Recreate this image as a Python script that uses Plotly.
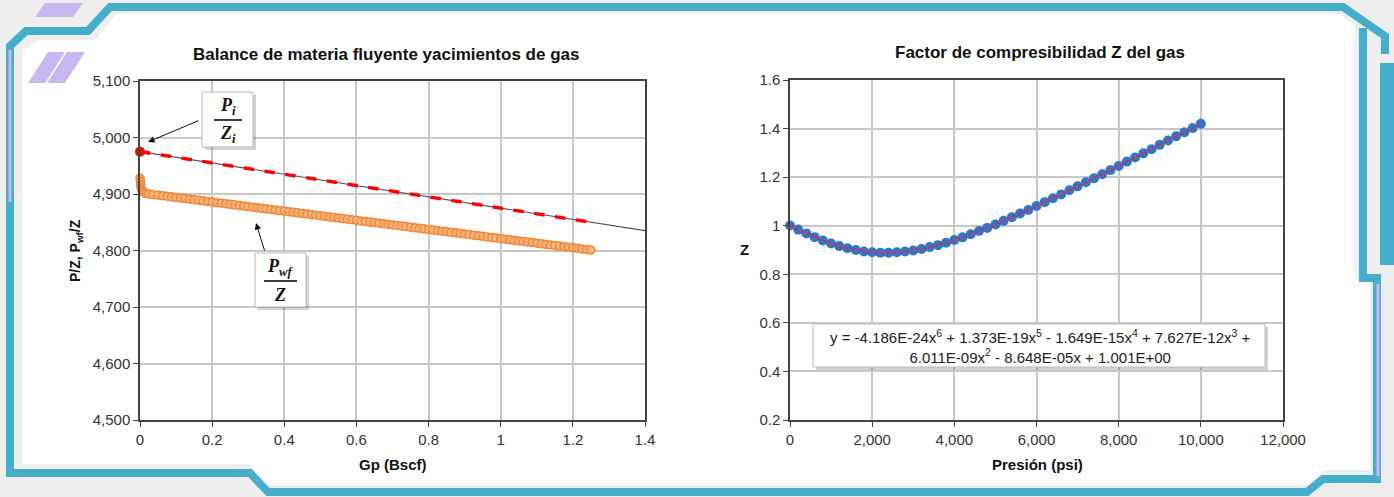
import numpy as np
import plotly.graph_objects as go

W, H = 1394, 497

# ---------------- Flowing material balance (left panel) ----------------
gp_pz = [0.0, 1.25]
pz = [4975, 4850]
gp_trend = [0.0, 1.4]
pz_trend = [4975, 4835]
gp_init = [0.0]
pz_init = [4975]

gp_pwf = [0.0, 0.001, 0.002, 0.003, 0.005, 0.008, 0.012, 0.018, 0.025, 0.035,
          0.0500, 0.0625, 0.0750, 0.0875, 0.1000, 0.1125, 0.1250, 0.1375, 0.1500, 0.1625,
          0.1750, 0.1875, 0.2000, 0.2125, 0.2250, 0.2375, 0.2500, 0.2625, 0.2750, 0.2875,
          0.3000, 0.3125, 0.3250, 0.3375, 0.3500, 0.3625, 0.3750, 0.3875, 0.4000, 0.4125,
          0.4250, 0.4375, 0.4500, 0.4625, 0.4750, 0.4875, 0.5000, 0.5125, 0.5250, 0.5375,
          0.5500, 0.5625, 0.5750, 0.5875, 0.6000, 0.6125, 0.6250, 0.6375, 0.6500, 0.6625,
          0.6750, 0.6875, 0.7000, 0.7125, 0.7250, 0.7375, 0.7500, 0.7625, 0.7750, 0.7875,
          0.8000, 0.8125, 0.8250, 0.8375, 0.8500, 0.8625, 0.8750, 0.8875, 0.9000, 0.9125,
          0.9250, 0.9375, 0.9500, 0.9625, 0.9750, 0.9875, 1.0000, 1.0125, 1.0250, 1.0375,
          1.0500, 1.0625, 1.0750, 1.0875, 1.1000, 1.1125, 1.1250, 1.1375, 1.1500, 1.1625,
          1.1750, 1.1875, 1.2000, 1.2125, 1.2250, 1.2375, 1.2500]
pwf_z = [4928, 4922, 4916, 4911, 4907, 4904, 4902, 4901, 4900, 4899,
         4898.0, 4897.0, 4896.0, 4895.0, 4893.9, 4892.9, 4891.9, 4890.9, 4889.9, 4888.9,
         4887.9, 4886.9, 4885.9, 4884.8, 4883.8, 4882.8, 4881.8, 4880.8, 4879.8, 4878.8,
         4877.8, 4876.7, 4875.7, 4874.7, 4873.7, 4872.7, 4871.7, 4870.7, 4869.7, 4868.6,
         4867.6, 4866.6, 4865.6, 4864.6, 4863.6, 4862.6, 4861.6, 4860.5, 4859.5, 4858.5,
         4857.5, 4856.5, 4855.5, 4854.5, 4853.5, 4852.4, 4851.4, 4850.4, 4849.4, 4848.4,
         4847.4, 4846.4, 4845.4, 4844.3, 4843.3, 4842.3, 4841.3, 4840.3, 4839.3, 4838.3,
         4837.3, 4836.2, 4835.2, 4834.2, 4833.2, 4832.2, 4831.2, 4830.2, 4829.2, 4828.1,
         4827.1, 4826.1, 4825.1, 4824.1, 4823.1, 4822.1, 4821.1, 4820.0, 4819.0, 4818.0,
         4817.0, 4816.0, 4815.0, 4814.0, 4813.0, 4811.9, 4810.9, 4809.9, 4808.9, 4807.9,
         4806.9, 4805.9, 4804.9, 4803.8, 4802.8, 4801.8, 4800.8]

# ---------------- Gas compressibility factor (right panel) ----------------
pres = [0, 200, 400, 600, 800, 1000, 1200, 1400, 1600, 1800,
        2000, 2200, 2400, 2600, 2800, 3000, 3200, 3400, 3600, 3800,
        4000, 4200, 4400, 4600, 4800, 5000, 5200, 5400, 5600, 5800,
        6000, 6200, 6400, 6600, 6800, 7000, 7200, 7400, 7600, 7800,
        8000, 8200, 8400, 8600, 8800, 9000, 9200, 9400, 9600, 9800, 10000]
z_vals = [1.001, 0.984, 0.968, 0.953, 0.939, 0.927, 0.916, 0.907, 0.900, 0.894,
          0.891, 0.889, 0.889, 0.891, 0.894, 0.898, 0.904, 0.912, 0.920, 0.930,
          0.941, 0.952, 0.965, 0.978, 0.991, 1.005, 1.020, 1.035, 1.050, 1.065,
          1.081, 1.097, 1.113, 1.129, 1.146, 1.162, 1.179, 1.195, 1.212, 1.229,
          1.246, 1.264, 1.281, 1.298, 1.315, 1.333, 1.351, 1.368, 1.385, 1.402, 1.420]
# 6th-order polynomial trend line coefficients (highest power first)
z_coef = [-4.186e-24, 1.373e-19, -1.649e-15, 7.627e-12, 6.011e-09, -8.648e-05, 1.001]

p_fit = np.linspace(min(pres), max(pres), 201)
z_fit = np.polyval(z_coef, p_fit)

TEAL = "#45AFCB"
LAV = "#C9B7F2"
FONT = "Liberation Sans, Arial, sans-serif"
SERIF = "Liberation Serif, Times New Roman, serif"


def px(x):
    return x / W


def py(y):
    return 1 - y / H


def path_str(points, close=False):
    s = "M " + " L ".join(f"{px(x):.5f},{py(y):.5f}" for x, y in points)
    return s + (" Z" if close else "")


fig = go.Figure()

# left panel traces
fig.add_trace(go.Scatter(x=gp_trend, y=pz_trend, mode="lines",
                         line=dict(color="#555555", width=1.2),
                         xaxis="x", yaxis="y", hoverinfo="skip"))
fig.add_trace(go.Scatter(x=gp_pz, y=pz, mode="lines",
                         line=dict(color="#FF0000", width=3.5, dash="dash"),
                         xaxis="x", yaxis="y"))
fig.add_trace(go.Scatter(x=gp_pwf, y=pwf_z, mode="markers", cliponaxis=False,
                         marker=dict(symbol="circle", size=8, color="#FBB783",
                                     line=dict(color="#F28533", width=1.5)),
                         xaxis="x", yaxis="y"))
fig.add_trace(go.Scatter(x=gp_init, y=pz_init, mode="markers", cliponaxis=False,
                         marker=dict(symbol="circle", size=10, color="#FF0000"),
                         xaxis="x", yaxis="y"))

# right panel traces
fig.add_trace(go.Scatter(x=pres, y=z_vals, mode="markers", cliponaxis=False,
                         marker=dict(symbol="circle", size=10, color="#3076CC"),
                         xaxis="x2", yaxis="y2"))
fig.add_trace(go.Scatter(x=p_fit, y=z_fit, mode="lines",
                         line=dict(color="#FF2020", width=2, dash="dot"),
                         xaxis="x2", yaxis="y2"))

axis_common = dict(
    showline=True, linecolor="#444444", linewidth=1.5, mirror=True,
    showgrid=True, gridcolor="#C8C8C8", gridwidth=1.5,
    ticks="outside", ticklen=5, tickcolor="#444444", tickwidth=1.2,
    tickfont=dict(family=FONT, size=15, color="#333333"),
    zeroline=False, automargin=False,
)

shapes = []

# frame: inner white panel
panel = [(22, 52), (38, 40), (95, 40), (117, 14), (1340, 14), (1355, 26),
         (1355, 280), (1370, 280), (1370, 470), (1325, 470), (1308, 485),
         (265, 485), (248, 464), (22, 464)]
shapes.append(dict(type="path", xref="paper", yref="paper", layer="below",
                   path=path_str(panel, close=True), fillcolor="white",
                   line=dict(width=0)))

# frame: teal outline
outline = [(1363, 28), (1363, 278), (1377, 278), (1377, 479), (1323, 479),
           (1307, 492), (268, 492), (250, 473), (10, 473), (10, 46), (26, 31),
           (88, 31), (110, 7), (1343, 7), (1385, 36), (1385, 54)]
shapes.append(dict(type="path", xref="paper", yref="paper", layer="below",
                   path=path_str(outline), line=dict(color=TEAL, width=8)))
shapes.append(dict(type="rect", xref="paper", yref="paper", layer="below",
                   x0=px(1380), x1=px(1394), y0=py(265), y1=py(63),
                   fillcolor=TEAL, line=dict(width=0)))

# frame: lavender accents
shapes.append(dict(type="line", xref="paper", yref="paper", layer="below",
                   x0=px(10), x1=px(10), y0=py(50), y1=py(202),
                   line=dict(color=LAV, width=3)))
shapes.append(dict(type="line", xref="paper", yref="paper", layer="below",
                   x0=px(1378), x1=px(1378), y0=py(284), y1=py(476),
                   line=dict(color=LAV, width=3)))
for pts in ([(35, 17), (45, 3), (83, 3), (73, 17)],
            [(28, 83), (48, 52), (65, 52), (45, 83)],
            [(47, 83), (67, 52), (85, 52), (65, 83)]):
    shapes.append(dict(type="path", xref="paper", yref="paper", layer="below",
                       path=path_str(pts, close=True), fillcolor=LAV,
                       line=dict(width=0)))


def boxed(x0, y0, x1, y1):
    # soft shadow then white box
    shapes.append(dict(type="rect", xref="paper", yref="paper", layer="above",
                       x0=px(x0 + 3), x1=px(x1 + 3), y0=py(y1 + 3), y1=py(y0 + 3),
                       fillcolor="rgba(0,0,0,0.18)", line=dict(width=0)))
    shapes.append(dict(type="rect", xref="paper", yref="paper", layer="above",
                       x0=px(x0), x1=px(x1), y0=py(y1), y1=py(y0),
                       fillcolor="white", line=dict(color="#BBBBBB", width=1)))


def frac_bar(x0, x1, y):
    shapes.append(dict(type="line", xref="paper", yref="paper", layer="above",
                       x0=px(x0), x1=px(x1), y0=py(y), y1=py(y),
                       line=dict(color="black", width=1.5)))


boxed(202, 92, 253, 147)
frac_bar(214, 242, 120)
boxed(255, 253, 306, 307)
frac_bar(264, 297, 281)
boxed(813, 324, 1265, 367)

annotations = []


def label(x, y, text, size=14, bold=True, angle=0, family=FONT, color="#111111"):
    annotations.append(dict(xref="paper", yref="paper", x=px(x), y=py(y),
                            text=f"<b>{text}</b>" if bold else text,
                            showarrow=False, xanchor="center", yanchor="middle",
                            textangle=angle,
                            font=dict(family=family, size=size, color=color)))


label(386, 54, "Balance de materia fluyente yacimientos de gas", size=17)
label(1040, 52, "Factor de compresibilidad Z del gas", size=17)
label(393, 464, "Gp (Bscf)", size=15)
label(1037, 464, "Presión (psi)", size=15)
label(76, 251, "P/Z, P<sub>wf</sub>/Z", size=14, angle=-90)
label(744, 250, "Z", size=15)

label(228, 106, "<i>P<sub>i</sub></i>", size=18, family=SERIF)
label(228, 134, "<i>Z<sub>i</sub></i>", size=18, family=SERIF)
label(280, 267, "<i>P<sub>wf</sub></i>", size=18, family=SERIF)
label(280, 295, "<i>Z</i>", size=18, family=SERIF)

label(1040, 346, "y = -4.186E-24x<sup>6</sup> + 1.373E-19x<sup>5</sup> - 1.649E-15x<sup>4</sup>"
      " + 7.627E-12x<sup>3</sup> +<br>6.011E-09x<sup>2</sup> - 8.648E-05x + 1.001E+00",
      size=15, bold=False, color="#222222")

# arrows pointing to the two curves
for head, tail in (((148, 142), (200, 120)), ((256, 223), (265, 252))):
    annotations.append(dict(xref="paper", yref="paper", x=px(head[0]), y=py(head[1]),
                            ax=tail[0] - head[0], ay=tail[1] - head[1],
                            text="", showarrow=True, arrowhead=2, arrowsize=1.3,
                            arrowwidth=1, arrowcolor="#111111"))

fig.update_layout(
    width=W, height=H, autosize=False,
    margin=dict(l=0, r=0, t=0, b=0, pad=0, autoexpand=False),
    paper_bgcolor="#EEEEEE", plot_bgcolor="white",
    showlegend=False,
    xaxis=dict(domain=[px(140), px(645)], range=[0, 1.4], dtick=0.2, tick0=0,
               anchor="y", **axis_common),
    yaxis=dict(domain=[py(420), py(81)], range=[4500, 5100], dtick=100,
               tickformat=",", anchor="x", **axis_common),
    xaxis2=dict(domain=[px(790), px(1283)], range=[0, 12000], dtick=2000,
                tickformat=",", anchor="y2", **axis_common),
    yaxis2=dict(domain=[py(420), py(80)], range=[0.2, 1.6], dtick=0.2,
                anchor="x2", **axis_common),
    shapes=shapes,
    annotations=annotations,
)

fig.write_html("out.html")
